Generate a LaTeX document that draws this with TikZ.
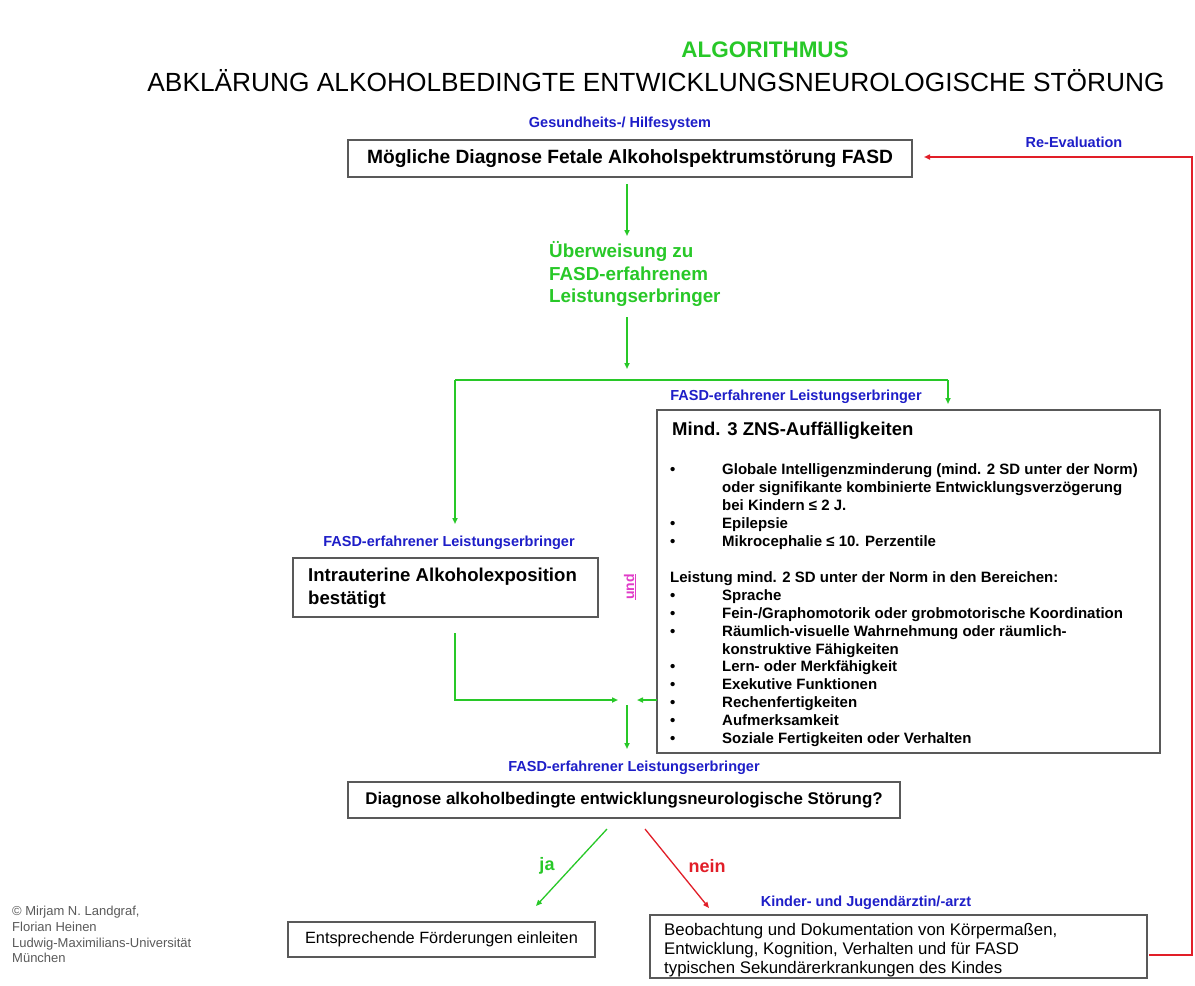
\documentclass[tikz,border=0pt]{standalone}
\usepackage{fontspec}
\setmainfont{Liberation Sans}
\usetikzlibrary{arrows.meta}
\definecolor{fgreen}{RGB}{40,200,40}
\definecolor{fblue}{RGB}{30,30,200}
\definecolor{fred}{RGB}{225,30,40}
\definecolor{fmag}{RGB}{225,60,200}
\definecolor{fgray}{RGB}{90,90,90}
\tikzset{
  box/.style={draw=black!65, line width=1.2pt, fill=white, inner sep=0pt},
  bluelbl/.style={text=fblue, font=\fontsize{14.5}{16}\selectfont\bfseries, inner sep=0pt},
  garrow/.style={draw=fgreen, line width=1.6pt, -{Triangle[length=6pt,width=5pt]}},
  gline/.style={draw=fgreen, line width=1.6pt},
  rarrow/.style={draw=fred, line width=1.6pt, -{Triangle[length=6pt,width=5pt]}},
}
\begin{document}
\begin{tikzpicture}[x=1pt,y=-1pt]
\useasboundingbox[fill=white] (0,0) rectangle (1195,986);

% titles
\node[text=fgreen, font=\fontsize{22.5}{24}\selectfont\bfseries, inner sep=0pt] (t1) at (765,50) {ALGORITHMUS};
\node[font=\fontsize{26.3}{28}\selectfont, inner sep=0pt] (t2) at (656,81) {ABKLÄRUNG ALKOHOLBEDINGTE ENTWICKLUNGSNEUROLOGISCHE STÖRUNG};

% top box
\node[bluelbl] (l1) at (620,124) {Gesundheits-/ Hilfesystem};
\node[box, minimum width=564, minimum height=37, font=\fontsize{19.2}{21}\selectfont\bfseries] (b1) at (630,158.5) {Mögliche Diagnose Fetale Alkoholspektrumstörung FASD};

\node[text=fgreen, font=\fontsize{18.8}{22.5}\selectfont\bfseries, align=left, anchor=west, inner sep=0pt] (ueb) at (549,274) {Überweisung zu\\FASD-erfahrenem\\Leistungserbringer};

\coordinate (a1s) at (627,184);
\coordinate (a1e) at (627,236);
\coordinate (a2s) at (627,317);
\coordinate (a2e) at (627,369);
\draw[garrow] (a1s) -- (a1e);
\draw[garrow] (a2s) -- (a2e);

% branch
\coordinate (brL) at (455,380);
\coordinate (brR) at (948,380);
\coordinate (brLe) at (455,524);
\coordinate (brRe) at (948,404);
\draw[gline] (brL) -- (brR);
\draw[garrow] (brL) -- (brLe);
\draw[garrow] (brR) -- (brRe);

% left box
\node[bluelbl] (l2) at (449,543) {FASD-erfahrener Leistungserbringer};
\node[box, minimum width=305, minimum height=59] (b2) at (445.5,587.5) {};
\node[font=\fontsize{18.6}{23}\selectfont\bfseries, align=left, anchor=west, inner sep=0pt] (b2t) at (308,588) {Intrauterine Alkoholexposition\\bestätigt};

\node[text=fmag, font=\fontsize{14}{15}\selectfont\bfseries, rotate=90, inner sep=0pt] (und) at (630,587) {\underline{und}};

% right box
\node[bluelbl] (l3) at (796,397) {FASD-erfahrener Leistungserbringer};
\node[box, minimum width=503, minimum height=343] (b3) at (908.5,581.5) {};
\node[font=\fontsize{18.5}{20}\selectfont\bfseries, anchor=base west, inner sep=0pt] (b3t) at (672,435) {Mind. 3 ZNS-Auffälligkeiten};
\node[font=\fontsize{15}{17.93}\selectfont\bfseries, anchor=north west, inner sep=0pt] (b3l) at (670,462) {%
\begin{tabular}{@{}p{52pt}@{}l@{}}
\textbullet & Globale Intelligenzminderung (mind. 2 SD unter der Norm)\\
 & oder signifikante kombinierte Entwicklungsverzögerung\\
 & bei Kindern ≤ 2 J.\\
\textbullet & Epilepsie\\
\textbullet & Mikrocephalie ≤ 10. Perzentile\\[17.93pt]
\multicolumn{2}{@{}l@{}}{Leistung mind. 2 SD unter der Norm in den Bereichen:}\\
\textbullet & Sprache\\
\textbullet & Fein-/Graphomotorik oder grobmotorische Koordination\\
\textbullet & Räumlich-visuelle Wahrnehmung oder räumlich-\\
 & konstruktive Fähigkeiten\\
\textbullet & Lern- oder Merkfähigkeit\\
\textbullet & Exekutive Funktionen\\
\textbullet & Rechenfertigkeiten\\
\textbullet & Aufmerksamkeit\\
\textbullet & Soziale Fertigkeiten oder Verhalten
\end{tabular}};

% join
\coordinate (jL1) at (455,633);
\coordinate (jL2) at (455,700);
\coordinate (jLe) at (618,700);
\coordinate (jRs) at (657,700);
\coordinate (jRe) at (637,700);
\coordinate (jDs) at (627,705);
\coordinate (jDe) at (627,749);
\draw[garrow] (jL1) -- (jL2) -- (jLe);
\draw[garrow] (jRs) -- (jRe);
\draw[garrow] (jDs) -- (jDe);

% diagnosis box
\node[bluelbl] (l4) at (634,768) {FASD-erfahrener Leistungserbringer};
\node[box, minimum width=552, minimum height=36, font=\fontsize{16.9}{18}\selectfont\bfseries] (b4) at (624,800) {Diagnose alkoholbedingte entwicklungsneurologische Störung?};

\coordinate (jas) at (607,829);
\coordinate (jae) at (536,906);
\coordinate (ns) at (645,829);
\coordinate (ne) at (709,908);
\draw[garrow, line width=1.3pt] (jas) -- (jae);
\draw[rarrow, line width=1.3pt] (ns) -- (ne);
\node[text=fgreen, font=\fontsize{18}{20}\selectfont\bfseries, inner sep=0pt] (ja) at (547,866) {ja};
\node[text=fred, font=\fontsize{18}{20}\selectfont\bfseries, inner sep=0pt] (nein) at (707,866) {nein};

% bottom boxes
\node[box, minimum width=307, minimum height=35, font=\fontsize{16.3}{18}\selectfont] (b5) at (441.5,939.5) {Entsprechende Förderungen einleiten};
\node[bluelbl] (l5) at (866,903) {Kinder- und Jugendärztin/-arzt};
\node[box, minimum width=497, minimum height=63] (b6) at (898.5,946.5) {};
\node[font=\fontsize{16.8}{19}\selectfont, align=left, anchor=west, inner sep=0pt] (b6t) at (664,950) {Beobachtung und Dokumentation von Körpermaßen,\\Entwicklung, Kognition, Verhalten und für FASD\\typischen Sekundärerkrankungen des Kindes};

% copyright
\node[text=fgray, font=\fontsize{13}{15.7}\selectfont, align=left, anchor=north west, inner sep=0pt] (copy) at (12,906) {© Mirjam N. Landgraf,\\Florian Heinen\\Ludwig-Maximilians-Universität\\München};

% re-evaluation
\node[bluelbl] (l6) at (1074,142) {Re-Evaluation};
\coordinate (r1) at (1149,955);
\coordinate (r2) at (1192,955);
\coordinate (r3) at (1192,157);
\coordinate (r4) at (924,157);
\draw[rarrow] (r1) -- (r2) -- (r3) -- (r4);
\end{tikzpicture}
\end{document}
